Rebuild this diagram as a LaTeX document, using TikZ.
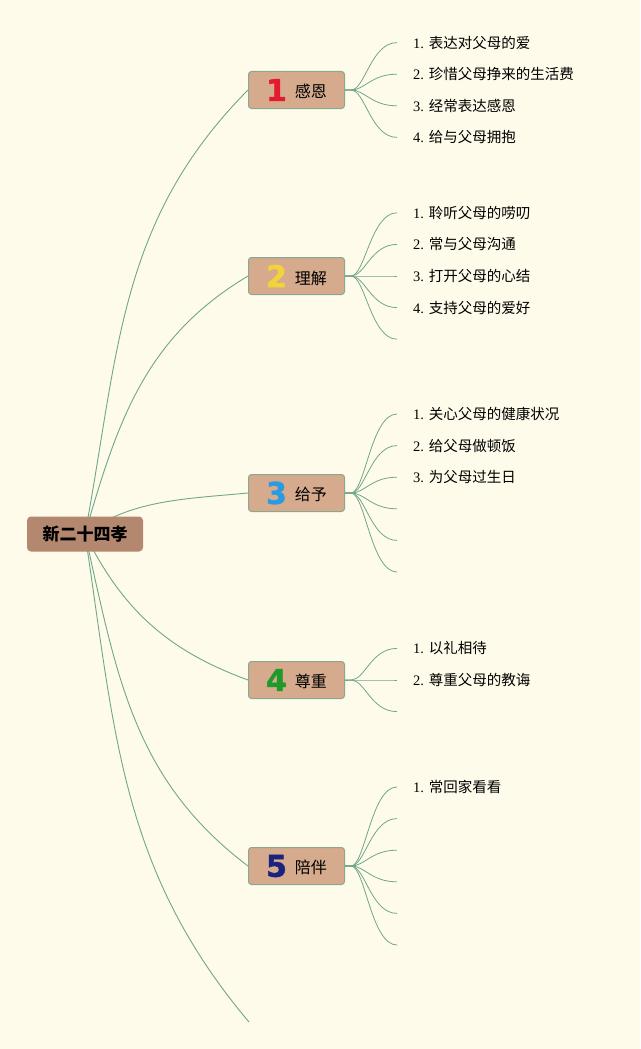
\documentclass[tikz,border=0pt]{standalone}
\usepackage{fontspec}
\setmainfont{Liberation Serif}
\newfontfamily\cjk{Noto Sans CJK SC}
\newfontfamily\numfont{DejaVu Sans}[BoldFeatures={FakeBold=1.6}]
\usetikzlibrary{backgrounds}

\definecolor{paper}{RGB}{254,251,234}
\definecolor{twig}{RGB}{112,166,140}
\definecolor{rootfill}{RGB}{180,135,111}
\definecolor{topicfill}{RGB}{213,170,141}
\definecolor{topicline}{RGB}{136,168,144}
\definecolor{numred}{RGB}{226,27,47}
\definecolor{numyellow}{RGB}{243,211,60}
\definecolor{numblue}{RGB}{43,155,224}
\definecolor{numgreen}{RGB}{30,154,42}
\definecolor{numnavy}{RGB}{26,35,126}

\newcommand\topicnum[2]{\raisebox{-3pt}{\numfont\bfseries\fontsize{30}{30}\selectfont\color{#1}#2}\hspace{8pt}}
\newcommand\leafitem[2]{#1 {\cjk #2}}

\begin{document}
\begin{tikzpicture}[x=1pt, y=-1pt,
  rootbox/.style = {rectangle, rounded corners=4pt, fill=rootfill,
    minimum width=116pt, minimum height=35pt,
    font=\cjk\bfseries\fontsize{17}{20}\selectfont},
  topic/.style = {rectangle, rounded corners=3pt, draw=topicline,
    line width=1pt, fill=topicfill, minimum width=96pt, minimum height=37pt,
    font=\cjk\fontsize{16}{19}\selectfont},
  leaf/.style = {anchor=west, inner sep=0pt, xshift=16pt,
    font=\fontsize{14.5}{17}\selectfont},
  branch/.style = {draw=twig, line width=0.9pt},
  twiglet/.style = {draw=twig, line width=0.8pt}]
  \useasboundingbox (0,0) rectangle (640,1049);

  \node[rootbox] (root) at (85,534) {新二十四孝};
  \node[topic] (t1) at (296.5,90)  {\topicnum{numred}{1}感恩};
  \node[topic] (t2) at (296.5,276) {\topicnum{numyellow}{2}理解};
  \node[topic] (t3) at (296.5,493) {\topicnum{numblue}{3}给予};
  \node[topic] (t4) at (296.5,680) {\topicnum{numgreen}{4}尊重};
  \node[topic] (t5) at (296.5,866) {\topicnum{numnavy}{5}陪伴};
  \coordinate (tail) at (249,1022);

  % leaf end points
  \foreach \t/\y/\n in {1/90/4, 2/276/5, 3/493/6, 4/680/3, 5/866/6}
    \foreach \i in {1,...,\n}
      \coordinate (t\t-\i) at (397,{\y+(\i-(\n+1)/2)*31.6});

  \node[leaf] (l1-1) at (t1-1) {\leafitem{1.}{表达对父母的爱}};
  \node[leaf] (l1-2) at (t1-2) {\leafitem{2.}{珍惜父母挣来的生活费}};
  \node[leaf] (l1-3) at (t1-3) {\leafitem{3.}{经常表达感恩}};
  \node[leaf] (l1-4) at (t1-4) {\leafitem{4.}{给与父母拥抱}};
  \node[leaf] (l2-1) at (t2-1) {\leafitem{1.}{聆听父母的唠叨}};
  \node[leaf] (l2-2) at (t2-2) {\leafitem{2.}{常与父母沟通}};
  \node[leaf] (l2-3) at (t2-3) {\leafitem{3.}{打开父母的心结}};
  \node[leaf] (l2-4) at (t2-4) {\leafitem{4.}{支持父母的爱好}};
  \node[leaf] (l3-1) at (t3-1) {\leafitem{1.}{关心父母的健康状况}};
  \node[leaf] (l3-2) at (t3-2) {\leafitem{2.}{给父母做顿饭}};
  \node[leaf] (l3-3) at (t3-3) {\leafitem{3.}{为父母过生日}};
  \node[leaf] (l4-1) at (t4-1) {\leafitem{1.}{以礼相待}};
  \node[leaf] (l4-2) at (t4-2) {\leafitem{2.}{尊重父母的教诲}};
  \node[leaf] (l5-1) at (t5-1) {\leafitem{1.}{常回家看看}};

  \begin{pgfonlayer}{background}
    \fill[paper] (0,0) rectangle (640,1049);
    % main branches
    \draw[branch] (root.center) .. controls (119,352) and (118,221) .. (t1.west);
    \draw[branch] (root.center) .. controls (118,419) and (146,337) .. (t2.west);
    \draw[branch] (root.center) .. controls (130,500) and (184,499) .. (t3.west);
    \draw[branch] (root.center) .. controls (123,611) and (169,651) .. (t4.west);
    \draw[branch] (root.center) .. controls (117,676) and (133,779) .. (t5.west);
    \draw[branch] (root.center) .. controls (115,732) and (120,869) .. (tail);
    % sub branches
    \foreach \t/\n in {1/4, 2/5, 3/6, 4/3, 5/6}
      \foreach \i in {1,...,\n}
        \draw[twiglet] (t\t.east) -- ++(6,0)
          .. controls +(14,0) and +(-26,0) .. (t\t-\i);
  \end{pgfonlayer}
\end{tikzpicture}
\end{document}
